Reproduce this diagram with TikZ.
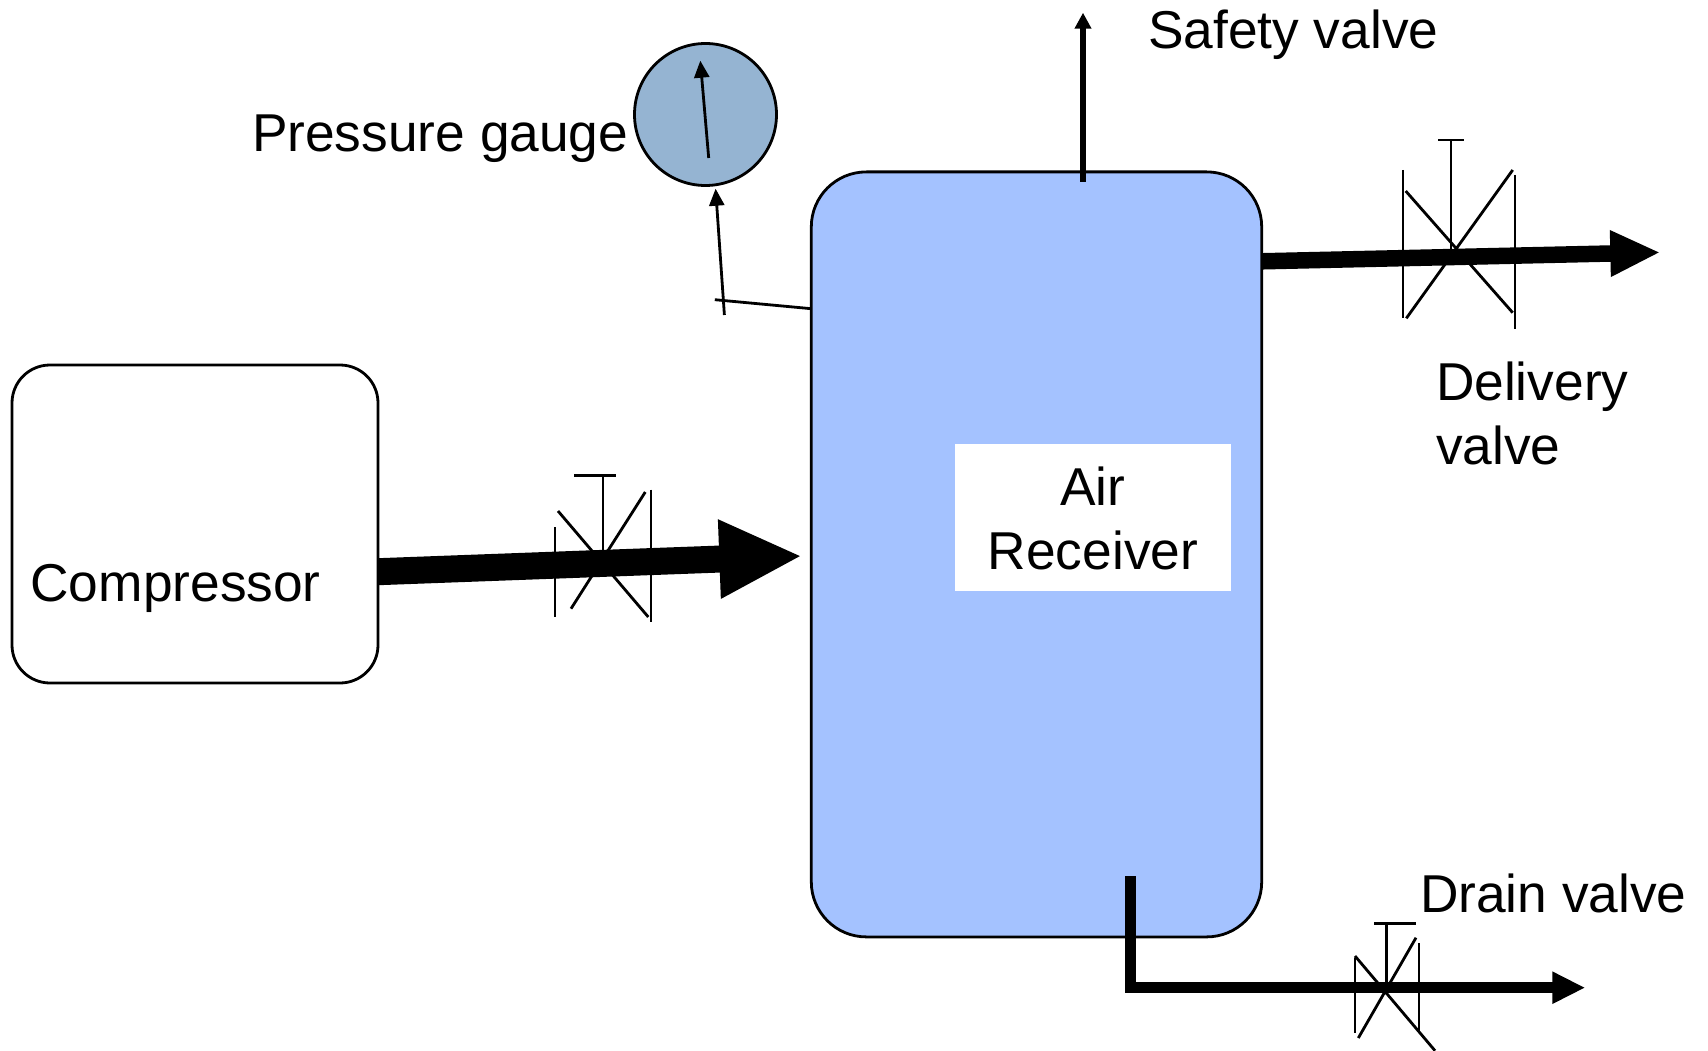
\documentclass[tikz,border=0pt]{standalone}
\usepackage{fontspec}
\setmainfont{Liberation Sans}
\usetikzlibrary{arrows.meta,shapes.geometric}
\definecolor{recv}{HTML}{A4C2FF}
\definecolor{gaugeblue}{HTML}{95B4D2}
\tikzset{
  lbl/.style={inner sep=0pt,outer sep=0pt,font=\fontsize{53.3}{64}\selectfont},
  outline/.style={draw=black,line width=2.8pt,inner sep=0pt,outer sep=0pt},
  vlv/.style={line width=2.8pt,black},
  thinarrow/.style={line width=2.8pt,-{Triangle[length=17pt,width=15pt]}},
  safetyarrow/.style={line width=5.5pt,-{Triangle[length=16pt,width=16pt]}},
  inletarrow/.style={line width=27pt,-{Triangle[length=83pt,width=73pt]}},
  deliveryarrow/.style={line width=16.5pt,-{Triangle[length=50pt,width=43pt]}},
  drainarrow/.style={line width=10.5pt,line join=miter,-{Triangle[length=33pt,width=30pt]}},
}
\begin{document}
\begin{tikzpicture}[x=1pt,y=-1pt]
\useasboundingbox (0,0) rectangle (1708,1051);
% main bodies
\node[outline,fill=white,rounded corners=38pt,minimum width=366pt,minimum height=318pt] (compressor) at (195,524) {};
\node[outline,fill=recv,rounded corners=55pt,minimum width=450.4pt,minimum height=765pt] (receiver) at (1036.5,554.4) {};
\node[outline,ellipse,fill=gaugeblue,minimum width=142pt,minimum height=142pt] (gauge) at (705.5,114.5) {};
\node[fill=white,inner sep=0pt,minimum width=276pt,minimum height=147pt] (labelbox) at (1093,517.5) {};
% labels
\node[lbl,anchor=center] (air) at (1093,486) {Air};
\node[lbl,anchor=center] (recvlabel) at (1093,550.5) {Receiver};
\node[lbl,anchor=base west] (complabel) at (30.5,601) {Compressor};
\node[lbl,anchor=base west] (gaugelabel) at (252,152) {Pressure gauge};
\node[lbl,anchor=base west] (safetylabel) at (1148,48.5) {Safety valve};
\node[lbl,anchor=base west] (dlabela) at (1436,400) {Delivery};
\node[lbl,anchor=base west] (dlabelb) at (1436,464) {valve};
\node[lbl,anchor=base west] (drainlabel) at (1420,912) {Drain valve};
% valve 1
\draw[vlv] (574,475.7) -- (616.3,475.7) (603,475.7) -- (603,560);
\draw[vlv] (555,527) -- (555,616.7) (651,489.7) -- (651,622);
\draw[vlv] (558,511) -- (648.3,617) (645.3,492) -- (571,608.7);
% valve 2
\draw[vlv] (1438,140) -- (1464.3,140) (1451,140) -- (1451,250);
\draw[vlv] (1403,170) -- (1403,318.3) (1515,175) -- (1515,329);
\draw[vlv] (1405.7,191) -- (1512.7,312.7) (1512.7,170) -- (1406.3,318.3);
% valve 3
\draw[vlv] (1374,923.3) -- (1416,923.3) (1386.7,923.3) -- (1386.7,985);
\draw[vlv] (1355,958) -- (1355,1033) (1419,943) -- (1419,1031.7);
\draw[vlv] (1355,956) -- (1435,1050.7) (1416,937.7) -- (1358.3,1038);
% connector end points
\coordinate (inletstart) at (378,571.7);
\coordinate (inletend) at (802.3,556);
\coordinate (delstart) at (1261.7,261.3);
\coordinate (delend) at (1660.3,252.4);
\coordinate (drainstart) at (1130.7,876);
\coordinate (drainbend) at (1130.7,987.7);
\coordinate (drainend) at (1585.3,987.7);
\coordinate (safetystart) at (1083,182);
\coordinate (safetyend) at (1083,12.7);
\coordinate (tapa) at (714.8,299.7);
\coordinate (tapb) at (811.3,308.7);
\coordinate (riserstart) at (724.4,315);
\coordinate (riserend) at (715.6,188.7);
\coordinate (needlestart) at (708.7,158);
\coordinate (needleend) at (700.3,60.7);
% connectors
\draw[inletarrow] (inletstart) -- (inletend);
\draw[deliveryarrow] (delstart) -- (delend);
\draw[drainarrow] (drainstart) -- (drainbend) -- (drainend);
\draw[safetyarrow] (safetystart) -- (safetyend);
\draw[vlv] (tapa) -- (tapb);
\draw[thinarrow] (riserstart) -- (riserend);
\draw[thinarrow] (needlestart) -- (needleend);
\end{tikzpicture}
\end{document}
